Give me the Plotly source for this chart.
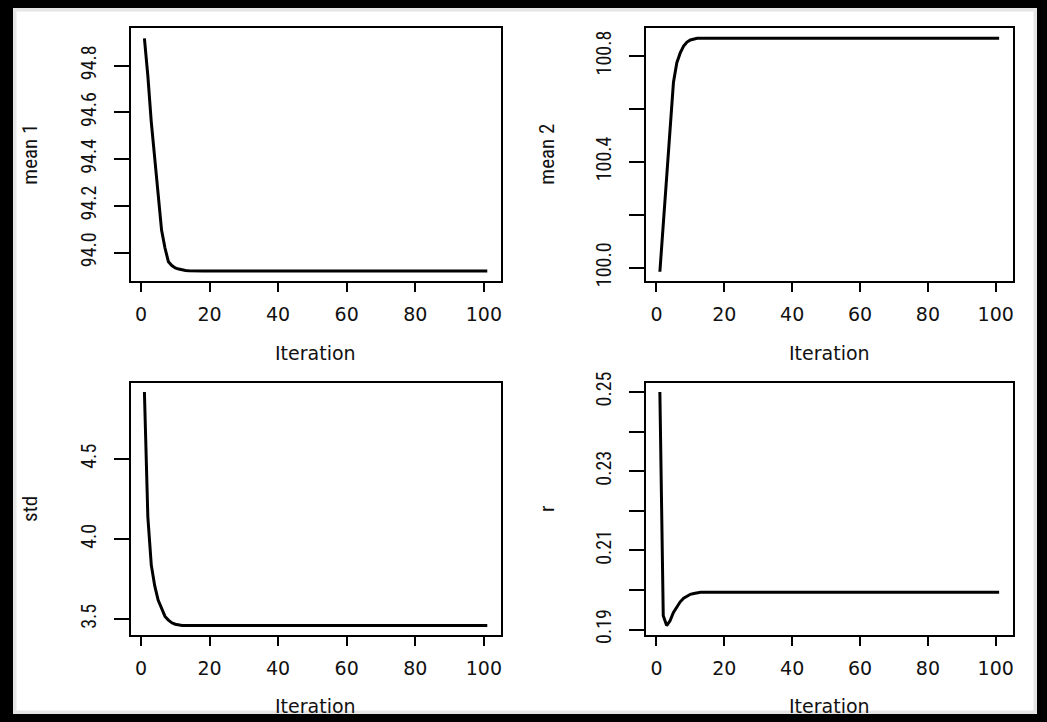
import plotly.graph_objects as go
from plotly.subplots import make_subplots

# ---------------- data ----------------
iteration = list(range(1, 102))

mean1 = [94.917, 94.757, 94.56, 94.397, 94.243, 94.097, 94.02, 93.961, 93.945,
         93.935, 93.930, 93.926, 93.924, 93.923] + [93.922] * 87
mean2 = [99.985, 100.162, 100.351, 100.541, 100.700, 100.775, 100.812, 100.838,
         100.853, 100.861, 100.865, 100.867] + [100.867] * 89
std = [4.92, 4.14, 3.84, 3.71, 3.62, 3.565, 3.518, 3.495, 3.478, 3.469, 3.464,
       3.462] + [3.462] * 89
r = [0.25, 0.1935, 0.1910, 0.1922, 0.1943, 0.1958, 0.1970, 0.1979, 0.1985,
     0.1989, 0.1991, 0.1993, 0.1994] + [0.1994] * 88

x_ticks = [0, 20, 40, 60, 80, 100]
mean1_ticks = [94.0, 94.2, 94.4, 94.6, 94.8]
mean1_labels = ["94.0", "94.2", "94.4", "94.6", "94.8"]
mean2_ticks = [100.0, 100.2, 100.4, 100.6, 100.8]
mean2_labels = ["100.0", "", "100.4", "", "100.8"]
std_ticks = [3.5, 4.0, 4.5]
std_labels = ["3.5", "4.0", "4.5"]
r_ticks = [0.19, 0.20, 0.21, 0.22, 0.23, 0.24, 0.25]
r_labels = ["0.19", "", "0.21", "", "0.23", "", "0.25"]

panel_titles = ["mean 1", "mean 2", "std", "r"]
x_title = "Iteration"

# ---------------- layout geometry (pixels) ----------------
W, H = 1047, 722
def px(x):
    return x / W
def py(y):
    return 1 - y / H

col_x = [(130.7, 501.0), (646.3, 1012.7)]
row_y = [(28.3, 281.0), (382.7, 635.3)]

WIDE = "DejaVu Sans, Verdana, sans-serif"
NARROW = "Liberation Sans Narrow, Arial Narrow, Roboto Condensed, Liberation Sans, sans-serif"

fig = make_subplots(rows=2, cols=2)

series = [mean1, mean2, std, r]
yranges = [[93.879, 94.960], [99.950, 100.905], [3.400, 4.978], [0.18854, 0.25236]]
yticks = [(mean1_ticks, mean1_labels), (mean2_ticks, mean2_labels),
          (std_ticks, std_labels), (r_ticks, r_labels)]

for i, ys in enumerate(series):
    row, col = i // 2 + 1, i % 2 + 1
    fig.add_trace(go.Scatter(x=iteration, y=ys, mode="lines",
                             line=dict(color="black", width=3),
                             showlegend=False, hoverinfo="skip"),
                  row=row, col=col)
    x0, x1 = col_x[col - 1]
    y0, y1 = row_y[row - 1]
    fig.update_xaxes(domain=[px(x0), px(x1)], range=[-3, 105], automargin=False,
                     tickvals=x_ticks, ticks="outside", ticklen=9, tickwidth=2,
                     tickcolor="black", showline=True, mirror=True, linewidth=2,
                     linecolor="black", showgrid=False, zeroline=False,
                     ticklabelstandoff=6,
                     tickfont=dict(family=WIDE, size=19, color="#111"),
                     row=row, col=col)
    tv, tt = yticks[i]
    fig.update_yaxes(domain=[py(y1), py(y0)], range=yranges[i], automargin=False,
                     tickvals=tv, ticktext=tt, ticks="outside", ticklen=15,
                     tickwidth=2, tickcolor="black", showline=True, mirror=True,
                     linewidth=2, linecolor="black", showgrid=False,
                     zeroline=False, tickangle=-90, ticklabelstandoff=10,
                     tickfont=dict(family=NARROW, size=20, color="#111"),
                     row=row, col=col)

annotations = []
title_x = [30, 547]
for i, t in enumerate(panel_titles):
    row, col = i // 2, i % 2
    x0, x1 = col_x[col]
    y0, y1 = row_y[row]
    annotations.append(dict(text=t, x=px(title_x[col]), y=py((y0 + y1) / 2),
                            xref="paper", yref="paper", showarrow=False,
                            textangle=-90, xanchor="center", yanchor="middle",
                            font=dict(family=NARROW, size=21, color="#111")))
for row, yc in enumerate([353, 706]):
    for col in range(2):
        x0, x1 = col_x[col]
        annotations.append(dict(text=x_title, x=px((x0 + x1) / 2), y=py(yc),
                                xref="paper", yref="paper", showarrow=False,
                                xanchor="center", yanchor="middle",
                                font=dict(family=WIDE, size=19, color="#111")))

shapes = [
    dict(type="rect", xref="paper", yref="paper", x0=0, x1=1, y0=0, y1=1,
         fillcolor="black", line=dict(width=0), layer="below"),
    dict(type="rect", xref="paper", yref="paper", x0=px(13), x1=px(1037),
         y0=py(714), y1=py(8), fillcolor="white", line=dict(width=0),
         layer="below"),
    dict(type="rect", xref="paper", yref="paper", x0=px(14), x1=px(1036),
         y0=py(713), y1=py(9), fillcolor="rgba(0,0,0,0)",
         line=dict(color="rgba(0,0,0,0.10)", width=5), layer="below"),
]

fig.update_layout(width=W, height=H, margin=dict(l=0, r=0, t=0, b=0),
                  paper_bgcolor="black", plot_bgcolor="white",
                  annotations=annotations, shapes=shapes, showlegend=False)

fig.write_html("out.html")
